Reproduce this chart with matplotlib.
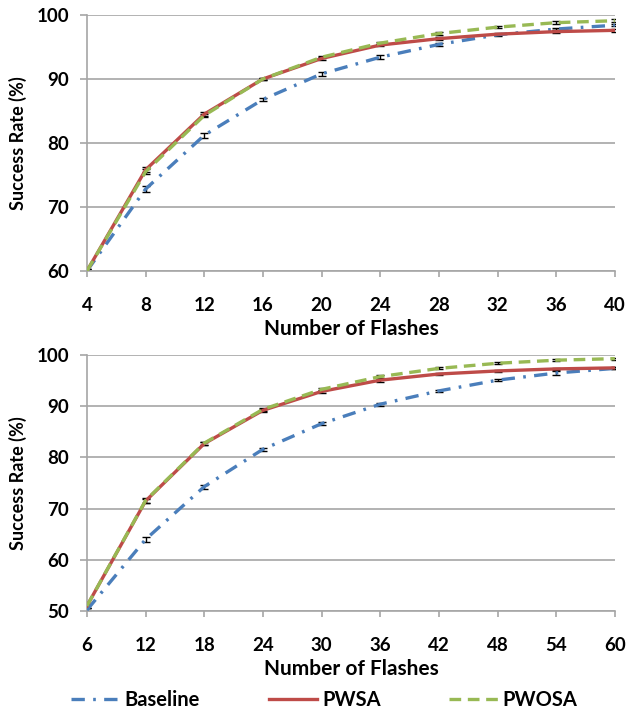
import matplotlib
matplotlib.use('Agg')
from matplotlib import pyplot as plt
from matplotlib.lines import Line2D

plt.rcParams['font.family'] = ['Lato', 'DejaVu Sans']
plt.rcParams['font.weight'] = 'bold'

# top panel
flashes_top = [4, 8, 12, 16, 20, 24, 28, 32, 36, 40]
base_top = [60.0, 72.8, 81.2, 86.8, 90.8, 93.4, 95.4, 96.9, 97.8, 98.4]
pwsa_top = [60.0, 75.8, 84.5, 90.0, 93.2, 95.3, 96.3, 97.0, 97.4, 97.6]
pwosa_top = [60.0, 75.5, 84.3, 90.0, 93.4, 95.6, 97.1, 98.1, 98.8, 99.1]
err_base_top = [0.3, 0.5, 0.4, 0.3, 0.3, 0.3, 0.2, 0.2, 0.2, 0.2]
err_pw_top = [0.3, 0.4, 0.3, 0.2, 0.2, 0.2, 0.2, 0.2, 0.2, 0.2]

# bottom panel
flashes_bot = [6, 12, 18, 24, 30, 36, 42, 48, 54, 60]
base_bot = [50.2, 64.0, 74.3, 81.6, 86.6, 90.4, 93.0, 95.1, 96.5, 97.4]
pwsa_bot = [51.0, 71.5, 82.7, 89.2, 92.9, 95.1, 96.3, 96.9, 97.3, 97.5]
pwosa_bot = [51.0, 71.6, 82.8, 89.4, 93.3, 95.8, 97.4, 98.4, 99.0, 99.3]
err_base_bot = [0.4, 0.5, 0.4, 0.3, 0.3, 0.3, 0.2, 0.2, 0.3, 0.2]
err_pw_bot = [0.4, 0.4, 0.3, 0.3, 0.3, 0.3, 0.2, 0.2, 0.2, 0.2]

blue = '#4a7ebb'
red = '#be4b48'
green = '#98b954'
grid_gray = '#a6a6a6'

base_dash = [4, 2.5, 0.8, 2.5]
green_dash = [3.5, 2]


def draw_panel(ax, x, base, pwsa, pwosa, eb, ep, ylim, yticks):
    ax.errorbar(x, base, yerr=eb, fmt='none', ecolor='black', elinewidth=1, capsize=3, zorder=2)
    ax.errorbar(x, pwsa, yerr=ep, fmt='none', ecolor='black', elinewidth=1, capsize=3, zorder=2)
    ax.errorbar(x, pwosa, yerr=ep, fmt='none', ecolor='black', elinewidth=1, capsize=3, zorder=2)
    ax.plot(x, base, color=blue, lw=2.4, dashes=base_dash, zorder=3)
    ax.plot(x, pwsa, color=red, lw=2.4, zorder=4)
    ax.plot(x, pwosa, color=green, lw=2.4, dashes=green_dash, zorder=5)
    ax.set_xlim(x[0], x[-1])
    ax.set_ylim(*ylim)
    ax.set_xticks(x)
    ax.set_yticks(yticks)
    ax.grid(axis='y', color=grid_gray, lw=1.2)
    ax.set_axisbelow(True)
    for s in ['top', 'right']:
        ax.spines[s].set_visible(False)
    for s in ['left', 'bottom']:
        ax.spines[s].set_color(grid_gray)
        ax.spines[s].set_linewidth(1.2)
    ax.tick_params(axis='x', length=4.5, color=grid_gray, width=1.2, labelsize=13.5, pad=14)
    ax.tick_params(axis='y', length=5, color=grid_gray, width=1.2, labelsize=13.5, pad=8)
    ax.set_xlabel('Number of Flashes', fontsize=15, fontweight='bold', labelpad=4)
    ax.set_ylabel('Success Rate (%)', fontsize=13, fontweight='bold', labelpad=7)


fig = plt.figure(figsize=(6.3, 7.13), dpi=100)
ax1 = fig.add_axes([0.138, 0.620, 0.838, 0.359])
ax2 = fig.add_axes([0.138, 0.143, 0.838, 0.359])

draw_panel(ax1, flashes_top, base_top, pwsa_top, pwosa_top, err_base_top, err_pw_top,
           (60, 100), [60, 70, 80, 90, 100])
draw_panel(ax2, flashes_bot, base_bot, pwsa_bot, pwosa_bot, err_base_bot, err_pw_bot,
           (50, 100), [50, 60, 70, 80, 90, 100])

handles = [Line2D([], [], color=blue, lw=2.4, dashes=base_dash),
           Line2D([], [], color=red, lw=2.4),
           Line2D([], [], color=green, lw=2.4, dashes=green_dash)]
fig.legend(handles, ['Baseline', 'PWSA', 'PWOSA'], loc='center', ncol=3,
           bbox_to_anchor=(0.515, 0.018), frameon=False, fontsize=14.5,
           handlelength=2.4, columnspacing=3.4, handletextpad=0.25)

fig.savefig('out.png', dpi=100)
